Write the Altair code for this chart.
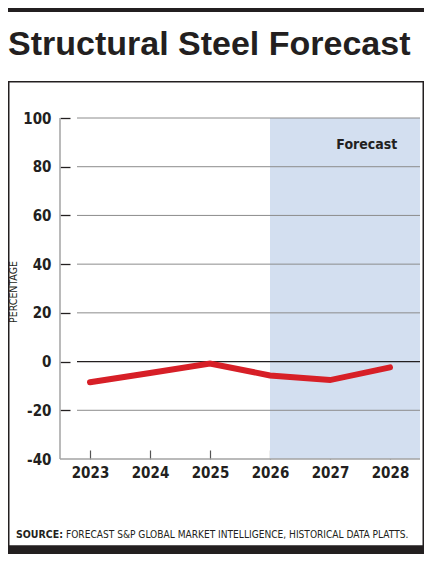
import altair as alt
import pandas as pd

# data
years = [2023, 2024, 2025, 2026, 2027, 2028]
change = [-8.5, -4.7, -0.8, -5.7, -7.6, -2.4]
y_ticks = [-40, -20, 0, 20, 40, 60, 80, 100]
grid_values = [-20, 20, 40, 60, 80, 100]
zero_value = [0]
forecast_start = [2026]
forecast_end = [2028.5]
x_domain = [2022.5, 2028.5]
y_domain = [-40, 100]

W, H = 360, 341
INK = '#231f20'
narrow = "'DejaVu Sans Condensed', sans-serif"

x_scale = alt.Scale(domain=x_domain, nice=False, zero=False)
y_scale = alt.Scale(domain=y_domain, nice=False)

line_df = pd.DataFrame({'year': years, 'change': change})
shade_df = pd.DataFrame({'start': forecast_start, 'end': forecast_end,
                         'top': [y_domain[1]], 'bottom': [y_domain[0]]})
grid_df = pd.DataFrame({'value': grid_values})
zero_df = pd.DataFrame({'value': zero_value})
one = pd.DataFrame({'k': [0]})

# frame around the graphic
top_bar = alt.Chart(one).mark_rect(color=INK).encode(
    x=alt.value(-52), x2=alt.value(364), y=alt.value(-110), y2=alt.value(-106))
box = alt.Chart(one).mark_rect(fillOpacity=0, stroke=INK, strokeWidth=1.5).encode(
    x=alt.value(-51.25), x2=alt.value(363.25), y=alt.value(-36.3), y2=alt.value(428))
bottom_bar = alt.Chart(one).mark_rect(color=INK).encode(
    x=alt.value(-52), x2=alt.value(364), y=alt.value(428), y2=alt.value(436))

title = alt.Chart(one).mark_text(
    text='Structural Steel Forecast', font='Liberation Sans', fontSize=34,
    fontWeight='bold', align='left', baseline='alphabetic', color=INK
).encode(x=alt.value(-52), y=alt.value(-63))

# forecast shading
shade = alt.Chart(shade_df).mark_rect(color='#d3dff0').encode(
    x=alt.X('start:Q', scale=x_scale),
    x2='end:Q',
    y=alt.Y('top:Q', scale=y_scale),
    y2='bottom:Q'
)

grid = alt.Chart(grid_df).mark_rule(color='#8c8c8c', strokeWidth=1).encode(
    y=alt.Y('value:Q', scale=y_scale), x=alt.value(17), x2=alt.value(W))
zero = alt.Chart(zero_df).mark_rule(color=INK, strokeWidth=1.3).encode(
    y=alt.Y('value:Q', scale=y_scale), x=alt.value(17), x2=alt.value(W))

y_domain_line = alt.Chart(one).mark_rule(color='#a3a3a3', strokeWidth=1.5).encode(
    x=alt.value(0), y=alt.value(0), y2=alt.value(H))
x_domain_line = alt.Chart(one).mark_rule(color='#a3a3a3', strokeWidth=1.5).encode(
    y=alt.value(H), x=alt.value(0), x2=alt.value(W))

line = alt.Chart(line_df).mark_line(color='#d71f27', strokeWidth=6, strokeCap='round').encode(
    x=alt.X('year:Q', scale=x_scale, title=None,
            axis=alt.Axis(values=years, format='d', offset=-9, tickSize=9, domain=False,
                          grid=False, tickColor='#555555', tickWidth=1.2,
                          labelFont=narrow, labelFontSize=15, labelFontWeight='bold',
                          labelColor=INK, labelPadding=6, labelFlush=False,
                          labelOverlap=False)),
    y=alt.Y('change:Q', scale=y_scale, title=None,
            axis=alt.Axis(values=y_ticks, offset=-10, tickSize=10, domain=False,
                          grid=False, tickColor=INK, tickWidth=1.3,
                          tickOpacity={'condition': {'test': 'datum.value < -30', 'value': 0},
                                       'value': 1},
                          labelFont=narrow, labelFontSize=15, labelFontWeight='bold',
                          labelColor=INK, labelPadding=9, labelOverlap=False,
                          labelExpr="'' + datum.value"))
)

forecast_label = alt.Chart(one).mark_text(
    text='Forecast', font=narrow, fontSize=14, fontWeight='bold',
    align='right', baseline='alphabetic', color=INK
).encode(x=alt.value(337.3), y=alt.value(31))

y_title = alt.Chart(one).mark_text(
    text='PERCENTAGE', font=narrow, fontSize=10.5, angle=270,
    align='center', baseline='middle', color=INK
).encode(x=alt.value(-46), y=alt.value(174))

source_bold = alt.Chart(one).mark_text(
    text='SOURCE:', font=narrow, fontSize=10.5, fontWeight='bold',
    align='left', baseline='middle', color=INK
).encode(x=alt.value(-44), y=alt.value(417))
source_rest = alt.Chart(one).mark_text(
    text='FORECAST S&P GLOBAL MARKET INTELLIGENCE, HISTORICAL DATA PLATTS.',
    font=narrow, fontSize=10.1, align='left', baseline='middle', color=INK
).encode(x=alt.value(6), y=alt.value(417))

chart = alt.layer(
    top_bar, box, bottom_bar, title, shade, grid, zero,
    y_domain_line, x_domain_line, line, forecast_label, y_title,
    source_bold, source_rest
).properties(
    width=W,
    height=H,
    autosize=alt.AutoSizeParams(type='none'),
    padding={'left': 52, 'top': 110, 'right': 4, 'bottom': 95}
).configure_view(strokeWidth=0)

chart.save("out.html", embed_options={"renderer": "svg", "actions": False})
